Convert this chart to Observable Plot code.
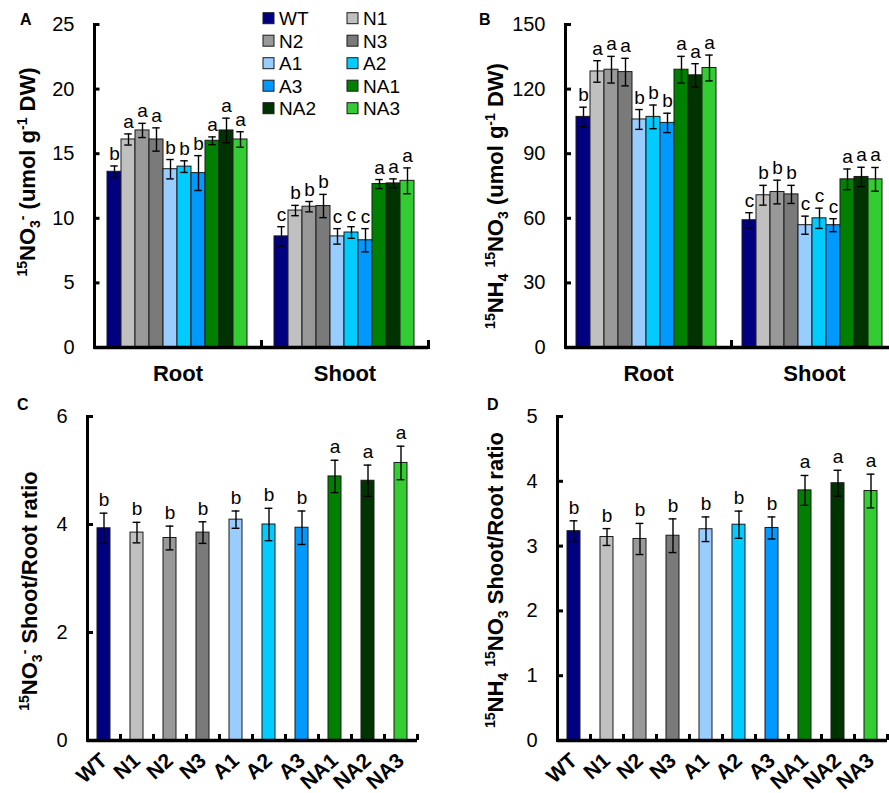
<!DOCTYPE html>
<html><head><meta charset="utf-8">
<script src="https://cdn.jsdelivr.net/npm/d3@7"></script>
<script src="https://cdn.jsdelivr.net/npm/@observablehq/plot@0.6"></script>
<style>
body{margin:0;background:#fff;}
#fig{position:relative;width:889px;height:793px;overflow:hidden;background:#fff;}
#fig svg{position:absolute;}
</style></head><body><div id="fig"></div>
<script>
// ---------- data ----------
const genotypes = ["WT","N1","N2","N3","A1","A2","A3","NA1","NA2","NA3"];
const colors = ["#000080","#c0c0c0","#999999","#7a7a7a","#99ccff","#00ccff","#0099ff","#008000","#003300","#33cc33"];
const groups = ["Root","Shoot"];

// Panel A: 15NO3- (umol g-1 DW)
const no3Root = [13.6,16.1,16.8,16.1,13.8,14.0,13.5,16.0,16.8,16.1];
const no3RootErr = [0.45,0.43,0.55,0.9,0.75,0.45,1.35,0.3,0.95,0.6];
const no3RootLetters = ["b","a","a","a","b","b","b","a","a","a"];
const no3Shoot = [8.6,10.6,10.9,10.95,8.6,8.9,8.3,12.65,12.7,12.9];
const no3ShootErr = [0.75,0.4,0.4,0.9,0.6,0.45,0.9,0.35,0.35,1.0];
const no3ShootLetters = ["c","b","b","b","c","c","c","a","a","a"];
const yTicksA = [0,5,10,15,20,25];

// Panel B: 15NH4 15NO3 (umol g-1 DW)
const nhRoot = [107.1,128.2,129.0,127.9,105.9,107.1,104.3,129.0,126.4,129.8];
const nhRootErr = [4.5,5.0,6.2,6.4,4.6,5.5,4.5,6.2,5.4,6.0];
const nhRootLetters = ["b","a","a","a","b","b","b","a","a","a"];
const nhShoot = [59.1,70.7,72.2,71.1,56.8,60.0,56.8,78.1,79.2,78.1];
const nhShootErr = [3.5,4.6,5.5,4.2,4.2,4.7,3.0,4.8,4.5,5.5];
const nhShootLetters = ["c","b","b","b","c","c","c","a","a","a"];
const yTicksB = [0,30,60,90,120,150];

// Panel C: 15NO3- Shoot/Root ratio
const ratioNO3 = [3.93,3.85,3.75,3.85,4.09,4.0,3.94,4.89,4.81,5.14];
const ratioNO3Err = [0.28,0.19,0.22,0.2,0.16,0.3,0.31,0.3,0.29,0.31];
const ratioNO3Letters = ["b","b","b","b","b","b","b","a","a","a"];
const yTicksC = [0,2,4,6];

// Panel D: 15NH4 15NO3 Shoot/Root ratio
const ratioNH = [3.23,3.14,3.11,3.16,3.26,3.33,3.28,3.86,3.97,3.85];
const ratioNHErr = [0.16,0.13,0.24,0.26,0.19,0.21,0.17,0.23,0.2,0.26];
const ratioNHLetters = ["b","b","b","b","b","b","b","a","a","a"];
const yTicksD = [0,1,2,3,4,5];

// ---------- helpers ----------
const FONT = '"Liberation Sans", Arial, Helvetica, sans-serif';
const fig = document.getElementById("fig");

function rows(group, vals, errs, lets) {
  return genotypes.map((g, i) => ({group, genotype: g, value: vals[i], err: errs[i], letter: lets[i]}));
}

function place(el, left, top) {
  el.style.left = left + "px"; el.style.top = top + "px";
  fig.append(el);
}

function groupedPanel({data, yDomain, yTicks, width, height, mL, mR, mT, mB, pOuter, align}) {
  const facetW = (width - mL - mR) / 2;
  const plotH = height - mT - mB;
  const step = facetW / (10 + 2 * pOuter);
  const capInset = (step - 8) / 2;
  return Plot.plot({
    width, height, marginLeft: mL, marginRight: mR, marginTop: mT, marginBottom: mB,
    style: {fontFamily: FONT, background: "transparent", color: "#000", overflow: "visible"},
    fx: {domain: groups, padding: 0, label: null},
    x: {domain: genotypes, paddingInner: 0, paddingOuter: pOuter, align, axis: null},
    y: {domain: yDomain},
    color: {domain: genotypes, range: colors},
    marks: [
      Plot.barY(data, {fx: "group", x: "genotype", y: "value", fill: "genotype", stroke: "#1a1a1a", strokeWidth: 1}),
      Plot.ruleX(data, {fx: "group", x: "genotype", y1: d => d.value - d.err, y2: d => d.value + d.err, stroke: "#000", strokeWidth: 1.4}),
      Plot.tickY(data, {fx: "group", x: "genotype", y: d => d.value - d.err, insetLeft: capInset, insetRight: capInset, strokeWidth: 1.4}),
      Plot.tickY(data, {fx: "group", x: "genotype", y: d => d.value + d.err, insetLeft: capInset, insetRight: capInset, strokeWidth: 1.4}),
      Plot.text(data, {fx: "group", x: "genotype", y: d => d.value + d.err, text: "letter", dy: -6, lineAnchor: "bottom", fontSize: 19, fill: "#000"}),
      Plot.ruleY([0], {strokeWidth: 3.5}),
      Plot.frame({anchor: "left", facetAnchor: "left", strokeWidth: 3}),
      Plot.tickY(yTicks, {y: d => d, facetAnchor: "left", insetRight: facetW - 6, strokeWidth: 3}),
      Plot.frame({anchor: "right", insetTop: plotH - 6, strokeWidth: 3}),
      Plot.axisY({ticks: yTicks, tickSize: 0, tickPadding: 20, fontSize: 20, tickFormat: d => d, label: null}),
      Plot.axisFx({anchor: "bottom", tickSize: 0, tickPadding: 18, fontSize: 22, fontWeight: "bold", label: null})
    ]
  });
}

function ratioPanel({vals, errs, lets, yDomain, yTicks, width, height, mL, mR, mT, mB}) {
  const data = genotypes.map((g, i) => ({genotype: g, value: vals[i], err: errs[i], letter: lets[i]}));
  const plotW = width - mL - mR;
  const plotH = height - mT - mB;
  const step = plotW / 10;
  const bw = step * 0.4;
  const capInset = (bw - 8) / 2;
  return Plot.plot({
    width, height, marginLeft: mL, marginRight: mR, marginTop: mT, marginBottom: mB,
    style: {fontFamily: FONT, background: "transparent", color: "#000", overflow: "visible"},
    x: {domain: genotypes, paddingInner: 0.6, paddingOuter: 0.3, axis: null},
    y: {domain: yDomain},
    color: {domain: genotypes, range: colors},
    marks: [
      Plot.barY(data, {x: "genotype", y: "value", fill: "genotype", stroke: "#1a1a1a", strokeWidth: 1}),
      Plot.ruleX(data, {x: "genotype", y1: d => d.value - d.err, y2: d => d.value + d.err, stroke: "#000", strokeWidth: 1.4}),
      Plot.tickY(data, {x: "genotype", y: d => d.value - d.err, insetLeft: capInset, insetRight: capInset, strokeWidth: 1.4}),
      Plot.tickY(data, {x: "genotype", y: d => d.value + d.err, insetLeft: capInset, insetRight: capInset, strokeWidth: 1.4}),
      Plot.text(data, {x: "genotype", y: d => d.value + d.err, text: "letter", dy: -7, lineAnchor: "bottom", fontSize: 19, fill: "#000"}),
      Plot.ruleY([0], {strokeWidth: 3.5}),
      Plot.frame({anchor: "left", strokeWidth: 3}),
      Plot.tickY(yTicks, {y: d => d, insetRight: plotW - 6, strokeWidth: 3}),
      Plot.tickX(genotypes, {x: d => d, dx: step / 2, insetTop: plotH - 6, strokeWidth: 3}),
      Plot.axisY({ticks: yTicks, tickSize: 0, tickPadding: 20, fontSize: 20, tickFormat: d => d, label: null}),
      Plot.axisX({tickSize: 0, tickPadding: 17, tickRotate: -42, fontSize: 21, fontWeight: "bold", label: null})
    ]
  });
}

// ---------- panels ----------
const A = groupedPanel({
  data: [...rows("Root", no3Root, no3RootErr, no3RootLetters), ...rows("Shoot", no3Shoot, no3ShootErr, no3ShootLetters)],
  yDomain: [0, 25], yTicks: yTicksA, width: 445, height: 395, mL: 93, mR: 17, mT: 24, mB: 48, pOuter: 0.78, align: 0.48
});
place(A, 0, 0);

const B = groupedPanel({
  data: [...rows("Root", nhRoot, nhRootErr, nhRootLetters), ...rows("Shoot", nhShoot, nhShootErr, nhShootLetters)],
  yDomain: [0, 150], yTicks: yTicksB, width: 460, height: 395, mL: 120, mR: 8, mT: 24, mB: 48, pOuter: 0.72, align: 0.43
});
place(B, 445, 0);

const C = ratioPanel({vals: ratioNO3, errs: ratioNO3Err, lets: ratioNO3Letters, yDomain: [0, 6], yTicks: yTicksC,
  width: 445, height: 393, mL: 87, mR: 28, mT: 16, mB: 53});
place(C, 0, 400);

const D = ratioPanel({vals: ratioNH, errs: ratioNHErr, lets: ratioNHLetters, yDomain: [0, 5], yTicks: yTicksD,
  width: 460, height: 393, mL: 112, mR: 18, mT: 16, mB: 53});
place(D, 445, 400);

// ---------- overlay: titles, panel letters, legend ----------
const ov = d3.select(fig).append("svg")
  .attr("width", 889).attr("height", 793)
  .style("left", "0px").style("top", "0px")
  .style("font-family", FONT).style("pointer-events", "none");

function yTitle(parts, x, y) {
  const t = ov.append("text")
    .attr("transform", `translate(${x},${y}) rotate(-90)`)
    .attr("text-anchor", "middle").attr("font-weight", "bold").attr("font-size", 22).attr("fill", "#000");
  let cur = 0;
  for (const [s, kind] of parts) {
    const target = kind === "sup" ? -8 : kind === "sub" ? 5 : 0;
    const ts = t.append("tspan").attr("dy", target - cur).text(s);
    if (kind) ts.attr("font-size", 14);
    cur = target;
  }
}
yTitle([["15","sup"],["NO"],["3","sub"],["-","sup"],[" (umol g"],["-1","sup"],[" DW)"]], 35, 172);
yTitle([["15","sup"],["NH"],["4","sub"],[" "],["15","sup"],["NO"],["3","sub"],[" (umol g"],["-1","sup"],[" DW)"]], 503, 196);
yTitle([["15","sup"],["NO"],["3","sub"],["-","sup"],[" Shoot/Root ratio"]], 37, 591);
yTitle([["15","sup"],["NH"],["4","sub"],[" "],["15","sup"],["NO"],["3","sub"],[" Shoot/Root ratio"]], 503, 580);

const panelLetters = ["A","B","C","D"];
const letterPos = [[20,25],[479,25],[17,410],[487,410]];
panelLetters.forEach((L, i) => ov.append("text").attr("x", letterPos[i][0]).attr("y", letterPos[i][1])
  .attr("font-weight", "bold").attr("font-size", 16).text(L));

// legend (two columns, five rows)
genotypes.forEach((g, i) => {
  const col = i % 2, row = Math.floor(i / 2);
  const sx = col === 0 ? 263 : 347;
  const sy = 12.7 + row * 22.5;
  ov.append("rect").attr("x", sx).attr("y", sy).attr("width", 11).attr("height", 11)
    .attr("fill", colors[i]).attr("stroke", "#1a1a1a").attr("stroke-width", 1);
  ov.append("text").attr("x", sx + 16).attr("y", sy + 5.5).attr("dy", "0.36em")
    .attr("font-size", 19).attr("fill", "#000").text(g);
});
</script></body></html>
